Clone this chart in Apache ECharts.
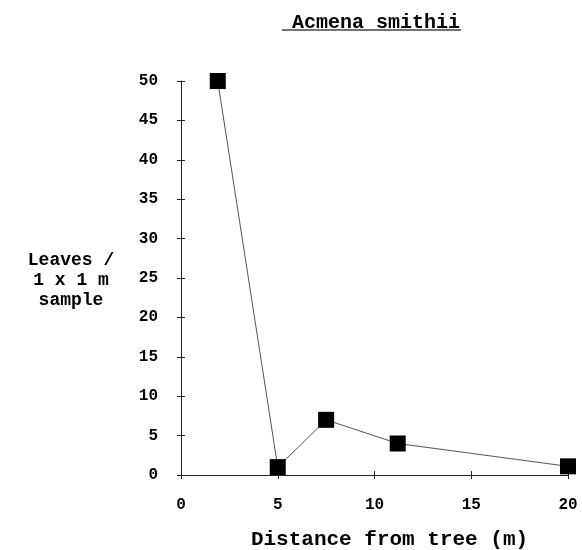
<!DOCTYPE html>
<html><head><meta charset="utf-8">
<script src="https://cdn.jsdelivr.net/npm/echarts@6/dist/echarts.min.js"></script>
<style>html,body{margin:0;padding:0;background:#fff}#c{width:582px;height:550px}</style>
</head><body><div id="c"></div>
<script>
var title = 'Acmena smithii';
var xName = 'Distance from tree (m)';
var yName = 'Leaves /\n1 x 1 m\nsample';
var distances = [1.9, 5, 7.5, 11.2, 20];
var leaves = [50, 1, 7, 4, 1.1];
var xTicks = [0, 5, 10, 15, 20];
var yTicks = [0, 5, 10, 15, 20, 25, 30, 35, 40, 45, 50];

var font = '"Liberation Mono", "Courier New", monospace';
var chart = echarts.init(document.getElementById('c'), null, {renderer: 'canvas'});
var pts = distances.map(function (d, i) { return [d, leaves[i]]; });
var lbl = {fontFamily: font, fontWeight: 'bold', fontSize: 16, color: '#000'};
var tickStyle = {color: '#222', width: 1};
chart.setOption({
  animation: false,
  backgroundColor: '#fff',
  title: [{
    text: title, left: 371, top: 8, textAlign: 'center',
    textStyle: {fontFamily: font, fontWeight: 'bold', fontSize: 20, color: '#000'}
  }, {
    text: yName, left: 66, top: 245, textAlign: 'center',
    textStyle: {fontFamily: font, fontWeight: 'bold', fontSize: 18, color: '#000', lineHeight: 20}
  }],
  graphic: [{
    type: 'line', shape: {x1: 282, y1: 30, x2: 461, y2: 30},
    style: {stroke: '#444', lineWidth: 1.5}
  }],
  grid: {left: 181, right: 14, top: 81, bottom: 75, outerBoundsMode: 'none', containLabel: false},
  xAxis: [{
    type: 'value', min: 0, max: 20, interval: 5,
    name: xName, nameLocation: 'middle', nameGap: 54,
    nameTextStyle: {fontFamily: font, fontWeight: 'bold', fontSize: 21, color: '#000', padding: [0, 0, 0, 30]},
    axisLine: {show: true, onZero: false, lineStyle: tickStyle},
    axisTick: {show: true, inside: true, length: 4, lineStyle: tickStyle},
    axisLabel: Object.assign({margin: 22,
      formatter: function (v) { return xTicks.indexOf(v) >= 0 ? String(v) : ''; }}, lbl),
    splitLine: {show: false}
  }, {
    type: 'value', min: 0, max: 20, interval: 5, position: 'bottom',
    axisLine: {show: false},
    axisTick: {show: true, inside: false, length: 4, lineStyle: tickStyle},
    axisLabel: {show: false}, splitLine: {show: false}
  }],
  yAxis: [{
    type: 'value', min: 0, max: 50, interval: 5,
    axisLine: {show: true, lineStyle: tickStyle},
    axisTick: {show: true, length: 4, lineStyle: tickStyle},
    axisLabel: Object.assign({margin: 23,
      formatter: function (v) { return yTicks.indexOf(v) >= 0 ? String(v) : ''; }}, lbl),
    splitLine: {show: false}
  }, {
    type: 'value', min: 0, max: 50, interval: 5, position: 'left',
    axisLine: {show: false},
    axisTick: {show: true, inside: true, length: 4, lineStyle: tickStyle},
    axisLabel: {show: false}, splitLine: {show: false}
  }],
  series: [{
    type: 'line', data: pts,
    symbol: 'rect', symbolSize: 16,
    itemStyle: {color: '#000'},
    lineStyle: {color: '#555', width: 1}
  }]
});
</script></body></html>
